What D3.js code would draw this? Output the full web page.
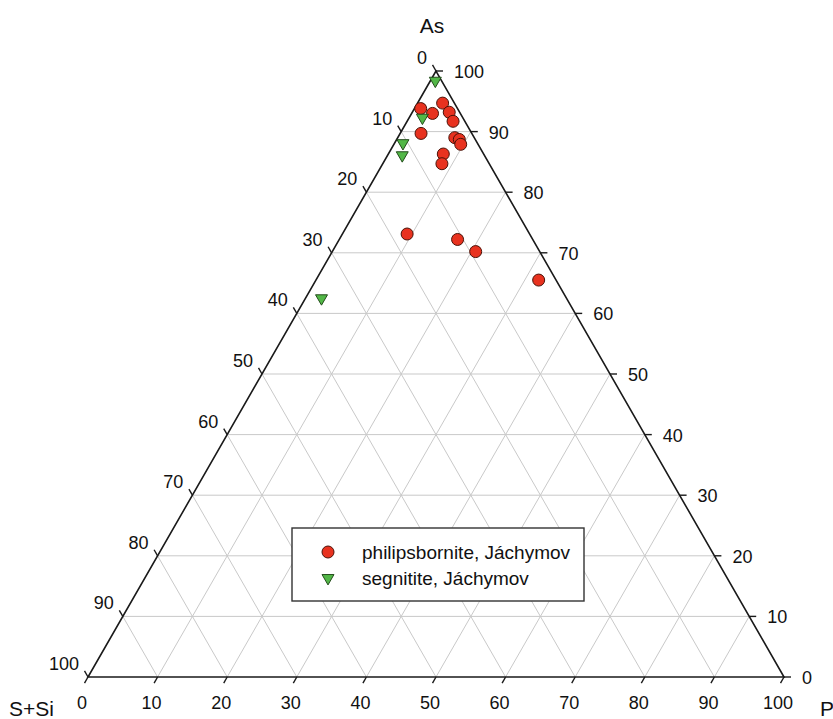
<!DOCTYPE html>
<html>
<head>
<meta charset="utf-8">
<script src="https://cdn.jsdelivr.net/npm/d3@7"></script>
<style>
  html, body { margin: 0; padding: 0; background: #fff; }
  svg { display: block; font-family: "Liberation Sans", Arial, sans-serif; }
</style>
</head>
<body>
<svg id="chart" width="833" height="719"></svg>
<script>
// ---- data (percentages: As, P, S+Si) ----
const philAs  = [93.8, 93.0, 94.7, 93.2, 91.7, 89.7, 89.0, 88.7, 87.9, 86.3, 84.7, 73.1, 72.2, 70.2, 65.5];
const philP   = [ 0.9,  3.0,  3.6,  5.3,  6.6,  3.0,  8.2,  9.0,  9.6,  7.9,  8.5,  9.3, 17.0, 20.6, 32.0];
const philSSi = [ 5.3,  4.0,  1.7,  1.5,  1.7,  7.3,  2.8,  2.3,  2.5,  5.8,  6.8, 17.6, 10.8,  9.2,  2.5];

const segAs  = [98.4, 92.3, 88.1, 86.1, 62.5];
const segP   = [ 0.7,  1.9,  1.2,  2.1,  2.3];
const segSSi = [ 0.9,  5.8, 10.7, 11.8, 35.2];

const tickValues = [0, 10, 20, 30, 40, 50, 60, 70, 80, 90, 100];
const vertexLabels = ["As", "S+Si", "P"];
const seriesNames = ["philipsbornite, Jáchymov", "segnitite, Jáchymov"];

// ---- layout ----
const svg = d3.select("#chart");
const xScale = d3.scaleLinear().domain([0, 100]).range([88, 784]);
const yScale = d3.scaleLinear().domain([0, 100]).range([677, 71]);

// ternary -> pixel (a = As, p = P, s = S+Si)
function pos(a, p, s) {
  const t = a + p + s;
  const A = a / t * 100, P = p / t * 100;
  return [xScale(P + A / 2), yScale(A)];
}

const gridColor = "#c9c9c9";
const axisColor = "#1a1a1a";

// grid lines
const grid = svg.append("g").attr("stroke", gridColor).attr("stroke-width", 1).attr("fill", "none");
tickValues.slice(1, -1).forEach(v => {
  // constant As
  let p1 = pos(v, 0, 100 - v), p2 = pos(v, 100 - v, 0);
  grid.append("line").attr("x1", p1[0]).attr("y1", p1[1]).attr("x2", p2[0]).attr("y2", p2[1]);
  // constant P
  p1 = pos(0, v, 100 - v); p2 = pos(100 - v, v, 0);
  grid.append("line").attr("x1", p1[0]).attr("y1", p1[1]).attr("x2", p2[0]).attr("y2", p2[1]);
  // constant S+Si
  p1 = pos(0, 100 - v, v); p2 = pos(100 - v, 0, v);
  grid.append("line").attr("x1", p1[0]).attr("y1", p1[1]).attr("x2", p2[0]).attr("y2", p2[1]);
});

// triangle outline
const vA = pos(100, 0, 0), vS = pos(0, 0, 100), vP = pos(0, 100, 0);
svg.append("path")
  .attr("d", d3.line()([vA, vS, vP, vA]) + "Z")
  .attr("fill", "none").attr("stroke", axisColor).attr("stroke-width", 1.6)
  .attr("stroke-linejoin", "miter");

// ticks & labels
const tickLen = 7;
const ticks = svg.append("g").attr("stroke", axisColor).attr("stroke-width", 1.4);
const labels = svg.append("g").attr("font-size", 18).attr("fill", "#111");

// unit direction along right edge (apex -> P)
const dxR = (vP[0] - vA[0]), dyR = (vP[1] - vA[1]);
const lenR = Math.hypot(dxR, dyR);
const uR = [dxR / lenR, dyR / lenR];
// unit direction along left edge (S -> apex)
const dxL = (vA[0] - vS[0]), dyL = (vA[1] - vS[1]);
const lenL = Math.hypot(dxL, dyL);
const uL = [dxL / lenL, dyL / lenL];

tickValues.forEach(v => {
  // left axis: S+Si, 0 at apex -> 100 at S+Si vertex
  let p = pos(100 - v, 0, v);
  ticks.append("line").attr("x1", p[0]).attr("y1", p[1])
    .attr("x2", p[0] - uR[0] * tickLen).attr("y2", p[1] - uR[1] * tickLen);
  labels.append("text").attr("x", p[0] - 9).attr("y", p[1] - 13)
    .attr("text-anchor", "end").attr("dominant-baseline", "central").text(v);

  // bottom axis: P, 0 at left -> 100 at right
  p = pos(0, v, 100 - v);
  ticks.append("line").attr("x1", p[0]).attr("y1", p[1])
    .attr("x2", p[0] - uL[0] * tickLen).attr("y2", p[1] - uL[1] * tickLen);
  labels.append("text").attr("x", p[0] - 6).attr("y", p[1] + 26)
    .attr("text-anchor", "middle").attr("dominant-baseline", "central").text(v);

  // right axis: As, 0 at bottom -> 100 at apex
  p = pos(v, 100 - v, 0);
  ticks.append("line").attr("x1", p[0]).attr("y1", p[1])
    .attr("x2", p[0] + tickLen).attr("y2", p[1]);
  labels.append("text").attr("x", p[0] + 18).attr("y", p[1] + 1)
    .attr("text-anchor", "start").attr("dominant-baseline", "central").text(v);
});

// vertex labels
const vl = svg.append("g").attr("font-size", 21).attr("fill", "#111");
vl.append("text").attr("x", vA[0] - 4).attr("y", 25).attr("text-anchor", "middle")
  .attr("dominant-baseline", "central").text(vertexLabels[0]);
vl.append("text").attr("x", 9).attr("y", 708).attr("text-anchor", "start")
  .attr("dominant-baseline", "central").text(vertexLabels[1]);
vl.append("text").attr("x", 820).attr("y", 708).attr("text-anchor", "start")
  .attr("dominant-baseline", "central").text(vertexLabels[2]);

// data markers
const redFill = "#e8321f", redStroke = "#4a1208";
const greenFill = "#52b747", greenStroke = "#244d1c";
const triSym = d3.symbol().type(d3.symbolTriangle).size(62);

const phil = philAs.map((a, i) => pos(a, philP[i], philSSi[i]));
const seg = segAs.map((a, i) => pos(a, segP[i], segSSi[i]));

svg.append("g").selectAll("circle").data(phil).join("circle")
  .attr("cx", d => d[0]).attr("cy", d => d[1]).attr("r", 6)
  .attr("fill", redFill).attr("stroke", redStroke).attr("stroke-width", 1);

svg.append("g").selectAll("path").data(seg).join("path")
  .attr("d", triSym)
  .attr("transform", d => `translate(${d[0]},${d[1]}) rotate(180)`)
  .attr("fill", greenFill).attr("stroke", greenStroke).attr("stroke-width", 1);

// legend
const leg = svg.append("g");
leg.append("rect").attr("x", 292).attr("y", 528).attr("width", 292).attr("height", 73)
  .attr("fill", "#fff").attr("stroke", "#333").attr("stroke-width", 1.4);
leg.append("circle").attr("cx", 328).attr("cy", 552).attr("r", 6)
  .attr("fill", redFill).attr("stroke", redStroke).attr("stroke-width", 1);
leg.append("path").attr("d", triSym)
  .attr("transform", "translate(328,578) rotate(180)")
  .attr("fill", greenFill).attr("stroke", greenStroke).attr("stroke-width", 1);
leg.append("text").attr("x", 362).attr("y", 552).attr("font-size", 19).attr("fill", "#111")
  .attr("dominant-baseline", "central").text(seriesNames[0]);
leg.append("text").attr("x", 362).attr("y", 578).attr("font-size", 19).attr("fill", "#111")
  .attr("dominant-baseline", "central").text(seriesNames[1]);
</script>
</body>
</html>
